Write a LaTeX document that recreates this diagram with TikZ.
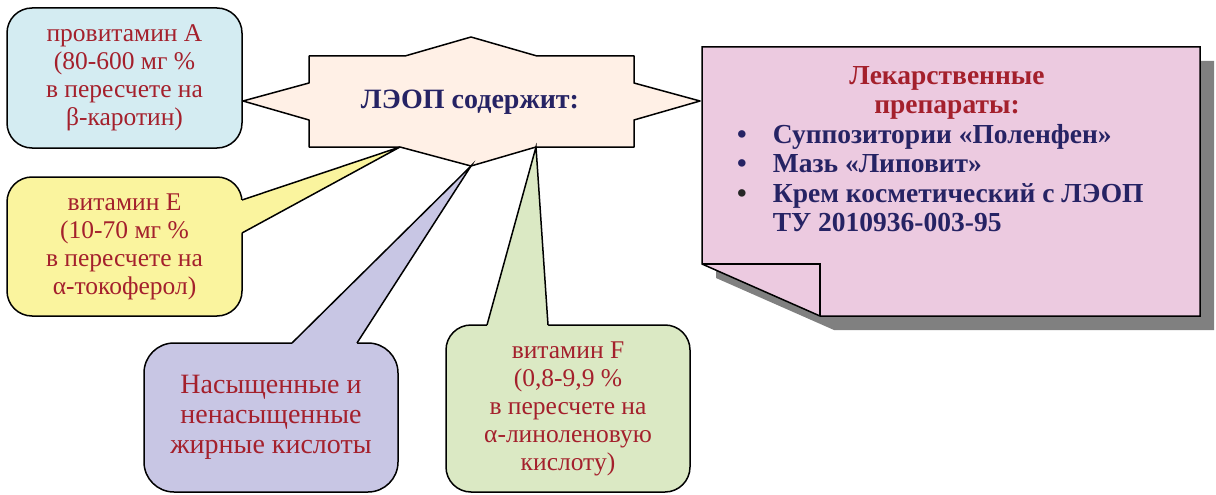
\documentclass[tikz,border=0pt]{standalone}
\usepackage{fontspec}
\setmainfont{Liberation Serif}
\definecolor{cblue}{RGB}{212,236,242}
\definecolor{cyellow}{RGB}{250,244,158}
\definecolor{cpurple}{RGB}{200,198,228}
\definecolor{cgreen}{RGB}{219,233,196}
\definecolor{cpeach}{RGB}{255,240,230}
\definecolor{cpink}{RGB}{236,202,224}
\definecolor{cred}{RGB}{164,32,44}
\definecolor{cnavy}{RGB}{38,35,100}
\definecolor{cshadow}{RGB}{128,128,128}
\begin{document}
\begin{tikzpicture}[x=1pt,y=-1pt,
  outl/.style={draw=black,line width=1.5pt,line join=round},
  callbox/.style={outl,rounded corners=25pt,align=center,text=cred,inner sep=0pt,
    font=\fontsize{25.5}{28}\selectfont},
  ptr/.style={line width=1.5pt,line join=miter}
]
\useasboundingbox (0,0) rectangle (1216,495);

% central star
\filldraw[outl,fill=cpeach] (309,56) -- (405,56) -- (471,37) -- (537,56) -- (634,56)
  -- (634,83) -- (700,101) -- (634,120) -- (634,147) -- (536,147) -- (471,166)
  -- (400,147) -- (309,147) -- (309,120) -- (243,101) -- (309,83) -- cycle;
\node[text=cnavy,font=\fontsize{28}{30}\selectfont\bfseries] (center) at (470,102) {ЛЭОП содержит:};

% blue callout
\node[callbox,fill=cblue,minimum width=235pt,minimum height=140pt] (A) at (124.5,78)
  {провитамин А\\(80-600 мг \%\\в пересчете на\\β-каротин)};

% yellow callout
\node[callbox,fill=cyellow,minimum width=235pt,minimum height=139pt] (E) at (124.5,246.5)
  {витамин Е\\(10-70 мг \%\\в пересчете на\\α-токоферол)};
\coordinate (Etip) at (400,147);
\fill[cyellow] (234,200) -- (242,200) -- (Etip) -- (242,233) -- (234,233) -- cycle;
\draw[ptr] (242,200) -- (Etip) -- (242,233);

% purple callout
\node[callbox,rounded corners=30pt,fill=cpurple,minimum width=254pt,minimum height=149pt,
  font=\fontsize{28}{30}\selectfont] (K) at (271,417.5)
  {Насыщенные и\\ненасыщенные\\жирные кислоты};
\coordinate (Ktip) at (471,166);
\fill[cpurple] (292,351) -- (292,343) -- (Ktip) -- (357,343) -- (357,351) -- cycle;
\draw[ptr] (292,343) -- (Ktip) -- (357,343);

% green callout
\node[callbox,fill=cgreen,minimum width=244pt,minimum height=167pt] (F) at (568,408.5)
  {витамин F\\(0,8-9,9 \%\\в пересчете на\\α-линоленовую\\кислоту)};
\coordinate (Ftip) at (536,147);
\fill[cgreen] (487,333) -- (487,325) -- (Ftip) -- (548,325) -- (548,333) -- cycle;
\draw[ptr] (487,325) -- (Ftip) -- (548,325);

% note with folded corner
\fill[cshadow] (716,61) -- (1214,61) -- (1214,330) -- (834,330) -- (716,278) -- cycle;
\filldraw[outl,line join=miter,fill=cpink] (702,47) -- (1200,47) -- (1200,316) -- (820,316) -- (702,264) -- cycle;
\draw[outl,line join=miter] (702,264) -- (820,264) -- (820,316);
\node[text=cred,align=center,font=\fontsize{27.5}{29}\selectfont\bfseries] (title) at (947,93)
  {Лекарственные\\препараты:};
\node[anchor=base west,inner sep=0pt,text=cnavy,font=\fontsize{27.5}{29.5}\selectfont\bfseries] (list) at (737,143)
  {\begin{tabular}[t]{@{}l@{\hspace{26pt}}l@{}}
  \textbullet & Суппозитории «Поленфен»\\
  \textbullet & Мазь «Липовит»\\
  \textcolor{black!85}{\textbullet} & Крем косметический с ЛЭОП\\
   & ТУ 2010936-003-95
  \end{tabular}};
\end{tikzpicture}
\end{document}
